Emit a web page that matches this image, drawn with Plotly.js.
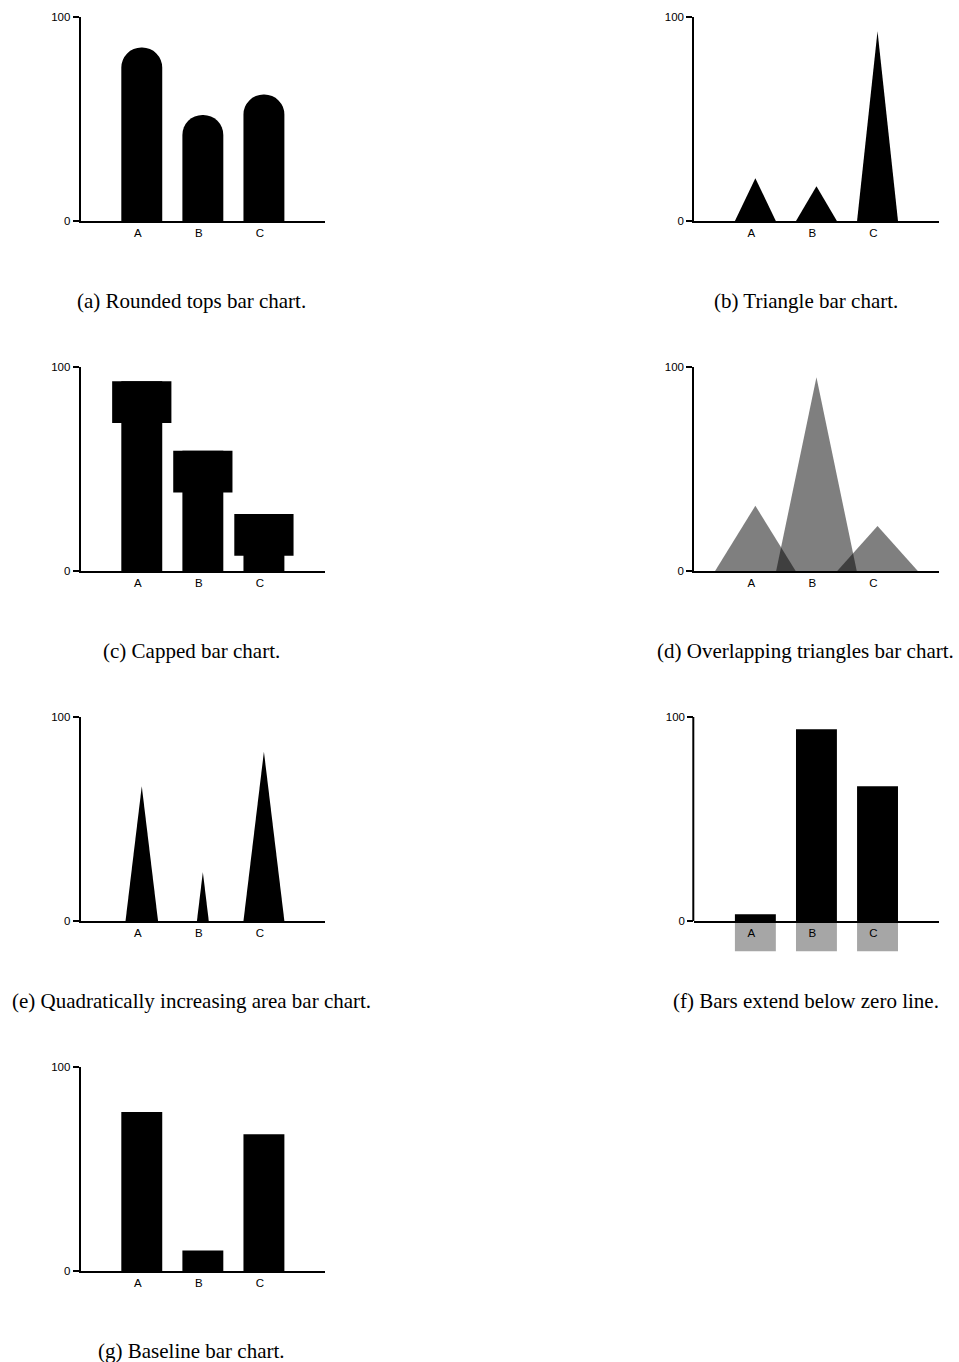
<!DOCTYPE html>
<html><head><meta charset="utf-8">
<script src="https://cdn.plot.ly/plotly-3.0.1.min.js"></script>
<style>html,body{margin:0;padding:0;background:#fff;}#chart{width:959px;height:1362px;}</style>
</head><body><div id="chart"></div>
<script>
// ---- data ----
const categories = ['A', 'B', 'C'];
const roundedTops = [85, 52, 62];
const triangles = [21, 17, 93];
const capped = [93, 59, 28];
const overlapping = [32, 95, 22];
const quadratic = [66, 24, 83];
const belowZero = [3.3, 94, 66];
const baseline = [78, 10, 67];
const yTickVals = [0, 100];
const yTickText = ['0', '100'];
const captions = [
  '(a) Rounded tops bar chart.',
  '(b) Triangle bar chart.',
  '(c) Capped bar chart.',
  '(d) Overlapping triangles bar chart.',
  '(e) Quadratically increasing area bar chart.',
  '(f) Bars extend below zero line.',
  '(g) Baseline bar chart.'
];

// ---- geometry / style ----
const W = 959, H = 1362;
const colX = [80.7, 694.3];
const plotW = 244.3;
const rowStep = 350;
const topPx = 17, zeroPx = 221;
const capX = [191, 805.5];
const capY = 301;
const barW = 0.67;
const capW = 0.97, capH = 20.5;
const overlapBase = 1.32;
const belowDepth = 15;
const sans = 'Liberation Sans, Arial, Helvetica, sans-serif';
const serif = 'Liberation Serif, Times New Roman, serif';
const idx = categories.map((c, i) => i);

const panels = [
  {col: 0, row: 0}, {col: 1, row: 0},
  {col: 0, row: 1}, {col: 1, row: 1},
  {col: 0, row: 2}, {col: 1, row: 2, ymin: -belowDepth},
  {col: 0, row: 3}
];

const layout = {
  width: W, height: H,
  margin: {l: 0, r: 0, t: 0, b: 0, pad: 0},
  paper_bgcolor: '#fff', plot_bgcolor: 'rgba(0,0,0,0)',
  showlegend: false, barmode: 'overlay',
  annotations: [], shapes: []
};

panels.forEach((p, k) => {
  const n = k + 1;
  const sfx = n === 1 ? '' : String(n);
  const x0 = colX[p.col], x1 = x0 + plotW;
  const yTop = topPx + rowStep * p.row;
  const yZero = zeroPx + rowStep * p.row;
  const ymin = p.ymin || 0;
  const yBot = yZero + (-ymin) * (yZero - yTop) / 100;
  const xa = {
    domain: [x0 / W, x1 / W], range: [-1, 3], anchor: 'y' + sfx,
    showline: true, linewidth: 2, linecolor: '#000',
    ticks: '', tickvals: idx, ticktext: categories,
    tickfont: {family: sans, size: 11.5, color: '#000'},
    ticklabelshift: -4,
    showgrid: false, zeroline: false, fixedrange: true
  };
  if (ymin < 0) {
    xa.anchor = 'free';
    xa.position = 1 - (yZero + 1) / H;
  }
  const ya = {
    domain: [1 - yBot / H, 1 - yTop / H], range: [ymin, 100], anchor: 'x' + sfx,
    showline: ymin === 0, linewidth: 2, linecolor: '#000',
    ticks: 'outside', ticklen: 6, tickwidth: 2, tickcolor: '#000',
    tickvals: yTickVals, ticktext: yTickText,
    tickfont: {family: sans, size: 11.5, color: '#000'},
    showgrid: false, zeroline: false, fixedrange: true
  };
  layout['xaxis' + sfx] = xa;
  layout['yaxis' + sfx] = ya;
  if (ymin < 0) {
    layout.shapes.push({
      type: 'line', xref: 'x' + sfx + ' domain', yref: 'y' + sfx,
      xsizemode: 'pixel', xanchor: 0, x0: -1, x1: -1, y0: 0, y1: 100,
      line: {color: '#000', width: 2}
    });
  }
  layout.annotations.push({
    text: captions[k], xref: 'paper', yref: 'paper',
    x: capX[p.col] / W, y: 1 - (capY + rowStep * p.row) / H,
    xanchor: 'center', yanchor: 'middle', showarrow: false,
    font: {family: serif, size: 21, color: '#000'}
  });
});

const traces = [];
function ax(n) { return n === 1 ? {xaxis: 'x', yaxis: 'y'} : {xaxis: 'x' + n, yaxis: 'y' + n}; }
function tri(i, v, base, color, n) {
  return Object.assign({
    type: 'scatter', mode: 'none', fill: 'toself', fillcolor: color,
    x: [i - base / 2, i, i + base / 2], y: [0, v, 0], hoverinfo: 'skip'
  }, ax(n));
}

// (a) rounded tops
traces.push(Object.assign({type: 'bar', x: idx, y: roundedTops, width: barW,
  marker: {color: '#000', cornerradius: '50%', line: {width: 0}}}, ax(1)));
// (b) triangles
idx.forEach(i => traces.push(tri(i, triangles[i], barW, '#000', 2)));
// (c) capped
traces.push(Object.assign({type: 'bar', x: idx, y: capped, width: barW,
  marker: {color: '#000', line: {width: 0}}}, ax(3)));
traces.push(Object.assign({type: 'bar', x: idx, y: capped.map(() => capH),
  base: capped.map(v => v - capH), width: capW,
  marker: {color: '#000', line: {width: 0}}}, ax(3)));
// (d) overlapping triangles
idx.forEach(i => traces.push(tri(i, overlapping[i], overlapBase, 'rgba(0,0,0,0.5)', 4)));
// (e) quadratic area
const qMax = Math.max(...quadratic);
idx.forEach(i => traces.push(tri(i, quadratic[i], barW * quadratic[i] / qMax, '#000', 5)));
// (f) below zero
traces.push(Object.assign({type: 'bar', x: idx, y: idx.map(() => -belowDepth), width: barW,
  marker: {color: '#a6a6a6', line: {width: 0}}}, ax(6)));
traces.push(Object.assign({type: 'bar', x: idx, y: belowZero, width: barW,
  marker: {color: '#000', line: {width: 0}}}, ax(6)));
// (g) baseline
traces.push(Object.assign({type: 'bar', x: idx, y: baseline, width: barW,
  marker: {color: '#000', line: {width: 0}}}, ax(7)));

Plotly.newPlot('chart', traces, layout, {staticPlot: true, displayModeBar: false});
</script>
</body></html>
